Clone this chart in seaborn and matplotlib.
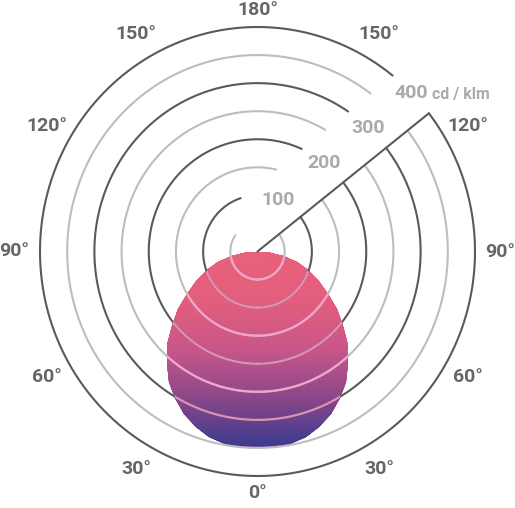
import numpy as np
import matplotlib
matplotlib.use("Agg")
import matplotlib.pyplot as plt
import seaborn as sns

# luminous intensity distribution (cd/klm) vs gamma angle, symmetric about nadir
gamma = [0, 5, 10, 15, 20, 25, 30, 35, 40, 45, 50, 55, 60, 65, 70, 75, 80, 85, 90]
intensity = [348, 349, 348, 342, 332, 320, 302, 283, 259, 235, 206, 178, 150, 122, 98, 75, 48, 25, 0]

grid_values = [50, 100, 150, 200, 250, 300, 350, 400]
cd_labels = [100, 200, 300, 400]
angle_ticks = [0, 30, 60, 90, 120, 150, 180]

sns.set_style("white")
plt.rcParams["font.family"] = ["Roboto", "DejaVu Sans"]

fig = plt.figure(figsize=(5.15, 5.08), dpi=100)
ax = fig.add_axes([40 / 515, 32 / 508, 435 / 515, 449 / 508], projection="polar")
ax.set_aspect("auto")
ax.set_theta_zero_location("S")
ax.set_theta_direction(1)
ax.set_ylim(0, 400)
ax.grid(False)
ax.set_xticks([])
ax.set_yticks([])
ax.spines["polar"].set_visible(False)

dark = "#5a5a5a"
light = "#bdbdbd"
cut = 128  # direction of the label cut (deg from nadir)

# grid arcs, interrupted by the label band
for i, v in enumerate(grid_values):
    if v < 94:
        end = 234.6
    else:
        end = cut + np.degrees(np.arcsin(94 / v))
    th = np.radians(np.linspace(end - 360, cut, 400))
    sns.lineplot(x=th, y=np.full_like(th, v), ax=ax, sort=False,
                 color=dark if i % 2 else light, lw=1.5, clip_on=False)

ax.plot([np.radians(cut)] * 2, [0, 400], color=dark, lw=1.5, clip_on=False)

# distribution body
g = np.array(gamma, dtype=float)
I = np.array(intensity, dtype=float)
th_body = np.radians(np.concatenate([-g[::-1], g[1:]]))
r_body = np.concatenate([I[::-1], I[1:]])
body = ax.fill(th_body, r_body, facecolor="none", edgecolor="none")[0]

cmap = sns.blend_palette(["#E9617A", "#E35E7D", "#C9568A", "#8B4789", "#3B3A8F"], as_cmap=True)
T, R = np.meshgrid(np.linspace(-np.pi / 2, np.pi / 2, 240), np.linspace(0, 360, 240))
mesh = ax.pcolormesh(T, R, R * np.cos(T), cmap=cmap, vmin=0, vmax=350, shading="gouraud")
mesh.set_clip_path(body)

full = np.linspace(0, 2 * np.pi, 400)
for v in grid_values:
    ln, = ax.plot(full, np.full_like(full, v), color="#ff9fcf", alpha=0.8, lw=1.6)
    ln.set_clip_path(body)

# angle labels
for a in angle_ticks:
    r = 430 if a in (0, 180) else 447
    for s in ([1] if a in (0, 180) else [1, -1]):
        ax.text(np.radians(s * a), r, f"{a}°", ha="center", va="center",
                fontsize=14, color="#666666", fontweight="semibold")

# intensity labels
for v in cd_labels:
    t = np.radians(cut + np.degrees(np.arcsin(49 / v)))
    ax.text(t, v, str(v), ha="center", va="center", fontsize=14,
            color="#aaaaaa", fontweight="semibold")
    if v == 400:
        ax.annotate("cd / klm", (t, v), xytext=(15, -1), textcoords="offset points",
                    ha="left", va="center", fontsize=11.5, color="#aaaaaa",
                    fontweight="semibold")

fig.savefig("out.png", dpi=100, facecolor="white")
